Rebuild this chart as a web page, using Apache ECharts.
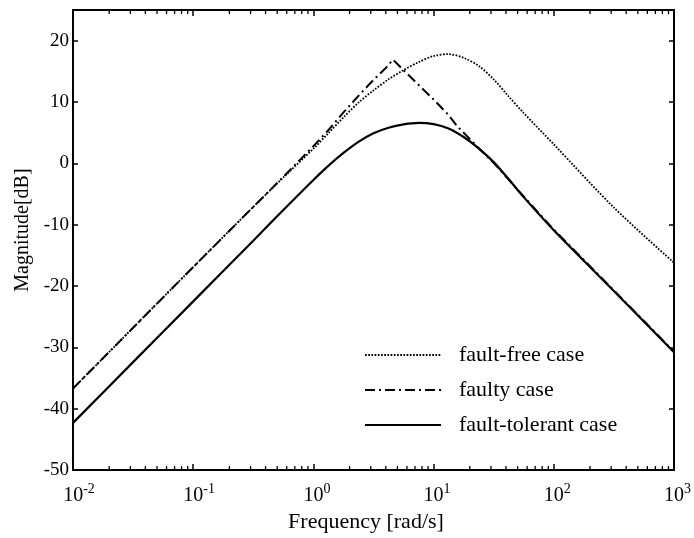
<!DOCTYPE html>
<html>
<head>
<meta charset="utf-8">
<script src="https://cdn.jsdelivr.net/npm/echarts@6/dist/echarts.min.js"></script>
<style>
html,body{margin:0;padding:0;background:#fff;}
#chart{width:694px;height:538px;}
</style>
</head>
<body>
<div id="chart"></div>
<script>
// Frequency grid (rad/s)
const freq = [0.01, 0.0316, 0.1, 0.316, 0.562, 1, 1.33, 1.78, 2.37, 3.16, 4.22, 5.62, 7.5, 10, 13.3, 17.8, 23.7, 31.6, 42.2, 56.2, 100, 316, 1000];
// fault-free case (dB)
const faultFree = [-36.7, -26.8, -16.9, -7.1, -2.3, 2.4, 4.9, 7.5, 9.9, 11.9, 13.7, 15.2, 16.5, 17.5, 17.8, 17.2, 15.9, 13.7, 10.9, 8.2, 3.1, -7.2, -16.2];
// fault-tolerant case (dB)
const faultTolerant = [-42.3, -32.4, -22.5, -12.6, -7.6, -2.7, -0.4, 1.7, 3.5, 4.9, 5.8, 6.35, 6.6, 6.4, 5.7, 4.3, 2.45, 0.2, -2.6, -5.5, -10.9, -20.8, -30.8];
// faulty case (own frequency grid, sharp peak)
const freqFaulty = [0.01, 0.0316, 0.1, 0.316, 0.562, 1, 1.33, 1.78, 2.37, 3.16, 3.98, 4.6, 5.62, 7.5, 10, 13.3, 15.8, 17.8, 23.7, 31.6, 56.2, 100, 316, 1000];
const faulty = [-36.7, -26.8, -16.9, -7.1, -2.2, 2.8, 5.4, 8.3, 11.0, 13.6, 15.5, 16.9, 15.2, 12.8, 10.4, 7.9, 6.0, 5.0, 2.5, 0.1, -5.4, -10.8, -20.7, -30.7];

const seriesNames = ['fault-free case', 'faulty case', 'fault-tolerant case'];
// axis settings
const yMin = -50, yMax = 25, yStep = 10;
const xMin = 0.01, xMax = 1000;
// minor tick positions on the log axis
const minorMantissa = [2, 3, 4, 5, 6, 7, 8, 9];
const minorDecades = [0.01, 0.1, 1, 10, 100];
const minorTicks = [];
minorDecades.forEach(d => minorMantissa.forEach(m => minorTicks.push(m * d)));

const FONT = '"Liberation Serif", "DejaVu Serif", serif';

function pairs(xs, ys) { return xs.map((x, i) => [x, ys[i]]); }

const chart = echarts.init(document.getElementById('chart'), null, {renderer: 'canvas'});

const xLabelFmt = v => {
  const e = Math.round(Math.log10(v));
  const s = String(e);
  const sp = s.length > 1 ? 'spB' : 'spA';
  return '{' + sp + '|}{b|10}{s|' + s + '}';
};

const option = {
  backgroundColor: '#fff',
  animation: false,
  grid: {left: 73, right: 16, top: 10, bottom: 63},
  legend: {
    data: seriesNames,
    orient: 'vertical',
    left: 359,
    top: 339,
    itemWidth: 76,
    itemHeight: 14,
    itemGap: 13,
    itemStyle: {opacity: 0},
    textStyle: {fontFamily: FONT, fontSize: 22, color: '#000', padding: [0, 0, 0, 13]},
    inactiveColor: '#000'
  },
  xAxis: [{
    type: 'log', logBase: 10, min: xMin, max: xMax,
    position: 'bottom',
    name: 'Frequency [rad/s]', nameLocation: 'middle', nameGap: 38,
    nameTextStyle: {fontFamily: FONT, fontSize: 22, color: '#000', padding: [0, 15, 0, 0]},
    axisLine: {onZero: false, lineStyle: {color: '#000', width: 2}},
    axisTick: {inside: true, length: 6, lineStyle: {color: '#000', width: 1.5}},
    axisLabel: {
      margin: 12, color: '#000', formatter: xLabelFmt,
      rich: {
        b: {fontFamily: FONT, fontSize: 20, color: '#000', verticalAlign: 'bottom', lineHeight: 24},
        s: {fontFamily: FONT, fontSize: 14, color: '#000', verticalAlign: 'top'},
        spA: {width: 7},
        spB: {width: 12}
      }
    },
    splitLine: {show: false}
  }, {
    type: 'log', logBase: 10, min: xMin, max: xMax,
    position: 'top',
    axisLine: {onZero: false, lineStyle: {color: '#000', width: 2}},
    axisTick: {inside: true, length: 6, lineStyle: {color: '#000', width: 1.5}},
    axisLabel: {show: false},
    splitLine: {show: false}
  }],
  yAxis: [{
    type: 'value', min: yMin, max: yMax, interval: yStep,
    position: 'left',
    name: 'Magnitude[dB]', nameLocation: 'middle', nameGap: 32,
    nameTextStyle: {fontFamily: FONT, fontSize: 20, color: '#000', padding: [0, 0, 0, 20]},
    axisLine: {onZero: false, lineStyle: {color: '#000', width: 2}},
    axisTick: {inside: true, length: 5, lineStyle: {color: '#000', width: 1.5}},
    axisLabel: {fontFamily: FONT, fontSize: 19, color: '#000', margin: 4, showMaxLabel: false},
    splitLine: {show: false}
  }, {
    type: 'value', min: yMin, max: yMax, interval: yStep,
    position: 'right',
    axisLine: {show: true, onZero: false, lineStyle: {color: '#000', width: 2}},
    axisTick: {show: true, inside: true, length: 5, lineStyle: {color: '#000', width: 1.5}},
    axisLabel: {show: false},
    splitLine: {show: false}
  }],
  series: [{
    name: seriesNames[0], type: 'line', data: pairs(freq, faultFree),
    symbol: 'none', smooth: 0.3, color: '#000',
    lineStyle: {color: '#000', width: 1.8, type: [1.7, 1.5]}
  }, {
    name: seriesNames[1], type: 'line', data: pairs(freqFaulty, faulty),
    symbol: 'none', smooth: false, color: '#000',
    lineStyle: {color: '#000', width: 2, type: [10, 4, 2, 4]}
  }, {
    name: seriesNames[2], type: 'line', data: pairs(freq, faultTolerant),
    symbol: 'none', smooth: 0.3, color: '#000',
    lineStyle: {color: '#000', width: 2.2, type: 'solid'}
  }, {
    name: 'minorTicks', type: 'custom', silent: true, z: 5,
    data: minorTicks.map(v => [v, yMin]),
    renderItem: (params, api) => {
      const x = api.coord([api.value(0), yMin])[0];
      const cs = params.coordSys;
      const st = {stroke: '#000', lineWidth: 1.3};
      return {type: 'group', children: [
        {type: 'line', shape: {x1: x, y1: cs.y + cs.height, x2: x, y2: cs.y + cs.height - 4}, style: st},
        {type: 'line', shape: {x1: x, y1: cs.y, x2: x, y2: cs.y + 4}, style: st}
      ]};
    }
  }]
};
chart.setOption(option);
</script>
</body>
</html>
